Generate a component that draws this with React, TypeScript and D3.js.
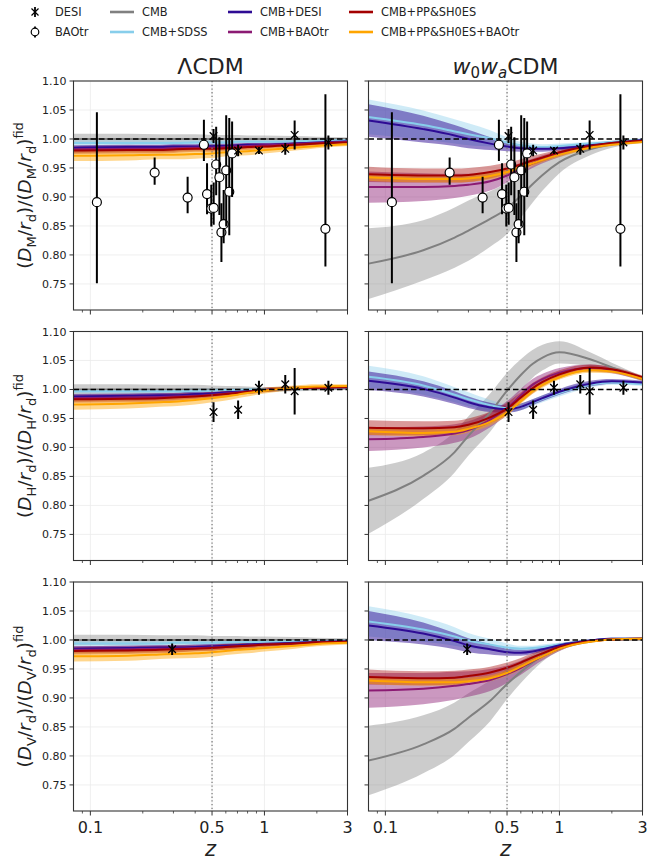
import React from 'react';
import * as d3 from 'd3';

// ---------------- data ----------------
const zGrid = [0.08, 0.165, 0.25, 0.3, 0.4, 0.5, 0.6, 0.7, 0.8, 1.0, 1.5, 2.0, 3.0];
const modelNames = ['CMB', 'CMB+SDSS', 'CMB+DESI', 'CMB+BAOtr', 'CMB+PP&SH0ES', 'CMB+PP&SH0ES+BAOtr'];

// LCDM column
const lcdmDMMid = [
  [1.000, 1.000, 1.000, 1.000, 1.000, 1.000, 1.000, 1.000, 1.000, 1.000, 1.000, 1.000, 1.000],
  [0.993, 0.993, 0.993, 0.993, 0.994, 0.994, 0.994, 0.995, 0.995, 0.995, 0.996, 0.997, 0.998],
  [0.985, 0.986, 0.986, 0.987, 0.987, 0.988, 0.988, 0.989, 0.990, 0.990, 0.992, 0.994, 0.996],
  [0.982, 0.983, 0.983, 0.984, 0.985, 0.985, 0.986, 0.987, 0.988, 0.989, 0.991, 0.993, 0.995],
  [0.980, 0.981, 0.981, 0.982, 0.983, 0.983, 0.984, 0.985, 0.986, 0.987, 0.990, 0.992, 0.994],
  [0.971, 0.972, 0.973, 0.973, 0.974, 0.975, 0.977, 0.978, 0.979, 0.981, 0.985, 0.988, 0.991],
];
const lcdmDMSig = [
  [0.009, 0.009, 0.008, 0.008, 0.008, 0.007, 0.007, 0.007, 0.006, 0.006, 0.005, 0.004, 0.003],
  [0.005, 0.005, 0.005, 0.005, 0.004, 0.004, 0.004, 0.004, 0.004, 0.003, 0.003, 0.003, 0.002],
  [0.004, 0.004, 0.004, 0.004, 0.004, 0.004, 0.004, 0.003, 0.003, 0.003, 0.003, 0.002, 0.002],
  [0.006, 0.006, 0.006, 0.006, 0.005, 0.005, 0.005, 0.005, 0.005, 0.004, 0.004, 0.003, 0.002],
  [0.006, 0.006, 0.006, 0.006, 0.005, 0.005, 0.005, 0.005, 0.005, 0.004, 0.004, 0.003, 0.002],
  [0.009, 0.009, 0.008, 0.008, 0.008, 0.008, 0.007, 0.007, 0.007, 0.006, 0.005, 0.004, 0.003],
];
const lcdmDHMid = [
  [1.000, 1.000, 1.000, 1.000, 1.000, 1.000, 1.000, 1.000, 1.000, 1.000, 1.001, 1.001, 1.002],
  [0.997, 0.997, 0.997, 0.997, 0.998, 0.998, 0.999, 0.999, 1.000, 1.000, 1.001, 1.002, 1.003],
  [0.988, 0.989, 0.990, 0.990, 0.992, 0.993, 0.995, 0.996, 0.997, 0.999, 1.002, 1.003, 1.004],
  [0.985, 0.986, 0.987, 0.988, 0.989, 0.991, 0.993, 0.995, 0.996, 0.999, 1.002, 1.003, 1.004],
  [0.983, 0.984, 0.985, 0.986, 0.988, 0.990, 0.992, 0.994, 0.996, 0.999, 1.002, 1.003, 1.004],
  [0.974, 0.976, 0.978, 0.979, 0.982, 0.985, 0.988, 0.991, 0.994, 0.998, 1.003, 1.005, 1.006],
];
const lcdmDHSig = [
  [0.009, 0.009, 0.008, 0.008, 0.008, 0.007, 0.006, 0.006, 0.005, 0.004, 0.004, 0.003, 0.003],
  [0.004, 0.004, 0.004, 0.004, 0.004, 0.004, 0.003, 0.003, 0.003, 0.003, 0.003, 0.002, 0.002],
  [0.004, 0.004, 0.004, 0.004, 0.004, 0.003, 0.003, 0.003, 0.003, 0.003, 0.002, 0.002, 0.002],
  [0.006, 0.006, 0.006, 0.006, 0.005, 0.005, 0.005, 0.004, 0.004, 0.004, 0.003, 0.003, 0.002],
  [0.006, 0.006, 0.006, 0.006, 0.005, 0.005, 0.005, 0.004, 0.004, 0.004, 0.003, 0.003, 0.002],
  [0.009, 0.009, 0.008, 0.008, 0.008, 0.007, 0.007, 0.006, 0.006, 0.005, 0.004, 0.004, 0.003],
];
const lcdmDVMid = [
  [1.000, 1.000, 1.000, 1.000, 1.000, 1.000, 1.000, 1.000, 1.000, 1.000, 1.000, 1.000, 1.000],
  [0.994, 0.994, 0.994, 0.995, 0.995, 0.995, 0.996, 0.996, 0.996, 0.997, 0.998, 0.998, 0.999],
  [0.985, 0.986, 0.987, 0.987, 0.988, 0.989, 0.990, 0.991, 0.992, 0.993, 0.995, 0.997, 0.998],
  [0.983, 0.984, 0.985, 0.985, 0.986, 0.987, 0.988, 0.989, 0.990, 0.992, 0.994, 0.996, 0.997],
  [0.981, 0.982, 0.983, 0.984, 0.985, 0.986, 0.988, 0.989, 0.990, 0.992, 0.994, 0.996, 0.997],
  [0.972, 0.973, 0.975, 0.976, 0.977, 0.979, 0.981, 0.983, 0.984, 0.986, 0.990, 0.993, 0.995],
];
const lcdmDVSig = lcdmDMSig;

// w0waCDM column
const w0waDMMid = [
  [0.785, 0.808, 0.830, 0.842, 0.862, 0.880, 0.902, 0.922, 0.938, 0.960, 0.982, 0.991, 0.996],
  [1.038, 1.024, 1.013, 1.008, 1.001, 0.994, 0.989, 0.987, 0.986, 0.988, 0.992, 0.995, 0.999],
  [1.032, 1.017, 1.006, 1.000, 0.992, 0.987, 0.984, 0.983, 0.983, 0.984, 0.989, 0.993, 0.998],
  [0.917, 0.917, 0.919, 0.921, 0.927, 0.937, 0.949, 0.958, 0.965, 0.974, 0.986, 0.991, 0.996],
  [0.939, 0.937, 0.937, 0.938, 0.943, 0.949, 0.956, 0.963, 0.968, 0.977, 0.988, 0.993, 0.997],
  [0.934, 0.931, 0.931, 0.932, 0.936, 0.943, 0.951, 0.958, 0.964, 0.973, 0.985, 0.990, 0.995],
];
const w0waDMSig = [
  [0.061, 0.052, 0.052, 0.052, 0.048, 0.044, 0.038, 0.032, 0.027, 0.019, 0.010, 0.006, 0.003],
  [0.030, 0.025, 0.021, 0.019, 0.014, 0.009, 0.006, 0.005, 0.005, 0.004, 0.003, 0.002, 0.002],
  [0.028, 0.023, 0.018, 0.016, 0.011, 0.008, 0.006, 0.005, 0.005, 0.004, 0.003, 0.002, 0.002],
  [0.027, 0.024, 0.021, 0.019, 0.016, 0.012, 0.010, 0.008, 0.007, 0.005, 0.003, 0.002, 0.002],
  [0.013, 0.012, 0.012, 0.012, 0.011, 0.010, 0.009, 0.008, 0.007, 0.005, 0.003, 0.002, 0.002],
  [0.006, 0.006, 0.006, 0.006, 0.006, 0.005, 0.005, 0.005, 0.004, 0.004, 0.003, 0.002, 0.002],
];
const w0waDHMid = [
  [0.808, 0.851, 0.892, 0.920, 0.960, 0.998, 1.025, 1.044, 1.055, 1.064, 1.052, 1.038, 1.018],
  [1.022, 1.007, 0.991, 0.983, 0.973, 0.968, 0.970, 0.977, 0.984, 0.994, 1.008, 1.012, 1.009],
  [1.015, 1.001, 0.986, 0.978, 0.969, 0.966, 0.970, 0.978, 0.985, 0.996, 1.010, 1.014, 1.012],
  [0.914, 0.918, 0.924, 0.930, 0.948, 0.968, 0.990, 1.008, 1.018, 1.029, 1.037, 1.033, 1.018],
  [0.934, 0.933, 0.935, 0.939, 0.952, 0.967, 0.986, 1.002, 1.013, 1.026, 1.038, 1.035, 1.021],
  [0.928, 0.925, 0.927, 0.932, 0.944, 0.960, 0.980, 0.997, 1.008, 1.021, 1.033, 1.031, 1.018],
];
const w0waDHSig = [
  [0.057, 0.040, 0.035, 0.034, 0.033, 0.031, 0.027, 0.024, 0.022, 0.019, 0.012, 0.008, 0.004],
  [0.019, 0.016, 0.013, 0.012, 0.009, 0.007, 0.006, 0.006, 0.006, 0.006, 0.005, 0.004, 0.003],
  [0.016, 0.013, 0.011, 0.010, 0.008, 0.006, 0.006, 0.005, 0.005, 0.005, 0.005, 0.004, 0.003],
  [0.020, 0.018, 0.016, 0.015, 0.013, 0.012, 0.011, 0.010, 0.009, 0.008, 0.006, 0.005, 0.003],
  [0.013, 0.012, 0.011, 0.011, 0.010, 0.010, 0.009, 0.009, 0.008, 0.007, 0.005, 0.004, 0.003],
  [0.006, 0.006, 0.006, 0.006, 0.006, 0.005, 0.005, 0.005, 0.005, 0.004, 0.004, 0.003, 0.003],
];
const w0waDVMid = [
  [0.792, 0.820, 0.847, 0.866, 0.895, 0.924, 0.945, 0.961, 0.973, 0.987, 0.998, 1.001, 1.001],
  [1.032, 1.018, 1.006, 0.999, 0.992, 0.987, 0.985, 0.986, 0.988, 0.992, 0.999, 1.002, 1.002],
  [1.025, 1.011, 0.998, 0.991, 0.984, 0.979, 0.978, 0.980, 0.984, 0.991, 0.999, 1.002, 1.002],
  [0.913, 0.916, 0.921, 0.924, 0.931, 0.941, 0.952, 0.963, 0.972, 0.985, 0.998, 1.001, 1.002],
  [0.936, 0.934, 0.935, 0.938, 0.944, 0.952, 0.961, 0.970, 0.977, 0.988, 0.998, 1.001, 1.002],
  [0.930, 0.927, 0.927, 0.929, 0.934, 0.943, 0.954, 0.964, 0.972, 0.985, 0.997, 1.001, 1.002],
];
const w0waDVSig = [
  [0.060, 0.050, 0.045, 0.042, 0.035, 0.026, 0.019, 0.014, 0.010, 0.006, 0.003, 0.002, 0.002],
  [0.026, 0.021, 0.016, 0.013, 0.010, 0.007, 0.005, 0.004, 0.004, 0.003, 0.002, 0.002, 0.002],
  [0.025, 0.019, 0.014, 0.012, 0.009, 0.006, 0.005, 0.004, 0.004, 0.003, 0.002, 0.002, 0.002],
  [0.030, 0.027, 0.024, 0.022, 0.019, 0.015, 0.012, 0.009, 0.007, 0.004, 0.002, 0.002, 0.002],
  [0.013, 0.012, 0.012, 0.011, 0.010, 0.009, 0.008, 0.007, 0.006, 0.004, 0.002, 0.002, 0.002],
  [0.006, 0.006, 0.006, 0.006, 0.005, 0.005, 0.005, 0.004, 0.004, 0.003, 0.002, 0.002, 0.002],
];

// DESI measurements
const desiDMz = [0.51, 0.706, 0.93, 1.317, 1.491, 2.33];
const desiDMv = [1.005, 0.980, 0.980, 0.983, 1.007, 0.994];
const desiDMe = [0.012, 0.010, 0.006, 0.010, 0.025, 0.012];
const desiDHz = [0.51, 0.706, 0.93, 1.317, 1.491, 2.33];
const desiDHv = [0.961, 0.965, 1.003, 1.009, 0.997, 1.003];
const desiDHe = [0.017, 0.016, 0.012, 0.016, 0.040, 0.012];
const desiDVz = [0.295];
const desiDVv = [0.984];
const desiDVe = [0.010];

// BAOtr (transverse) measurements
const baoZ = [0.109, 0.234, 0.362, 0.449, 0.468, 0.495, 0.511, 0.528, 0.551, 0.566, 0.583, 0.603, 0.628, 0.652, 2.24];
const baoV = [0.891, 0.942, 0.899, 0.990, 0.905, 0.880, 0.881, 0.956, 0.934, 0.839, 0.853, 0.946, 0.909, 0.975, 0.845];
const baoLo = [0.751, 0.921, 0.872, 0.962, 0.870, 0.849, 0.852, 0.903, 0.869, 0.788, 0.820, 0.849, 0.834, 0.900, 0.780];
const baoHi = [1.046, 0.968, 0.935, 1.033, 0.958, 0.921, 0.925, 1.021, 1.003, 0.889, 0.912, 1.041, 1.036, 1.030, 1.077];

const yTicks = [0.75, 0.80, 0.85, 0.90, 0.95, 1.00, 1.05, 1.10];
const xMajor = [0.1, 0.5, 1, 3];
const xMajorLabels = ['0.1', '0.5', '1', '3'];
const xMinor = [0.09, 0.2, 0.3, 0.4, 0.6, 0.7, 0.8, 0.9, 2];

// ---------------- styles ----------------
const lineColors = ['#808080', '#87ceeb', '#2e0b94', '#8b1a73', '#a30000', '#ffa500'];
const bandOpacity = [0.4, 0.4, 0.5, 0.45, 0.4, 0.45];
const FONT = 'DejaVu Sans, sans-serif';

const colX = [73.5, 368.5];
const rowY = [81, 331.5, 582];
const PW = 274;
const PH = 229;

type Pts = { z: number[]; v: number[]; lo: number[]; hi: number[] };

function Panel(props: {
  x0: number; y0: number; mids: number[][]; sigs: number[][]; leftCol: boolean; bottomRow: boolean;
  desi: Pts; bao?: Pts; id: string;
}) {
  const { x0, y0, mids, sigs, leftCol, bottomRow, desi, bao, id } = props;
  const xs = d3.scaleLog().domain([0.08, 3]).range([x0, x0 + PW]);
  const ys = d3.scaleLinear().domain([0.705, 1.10]).range([y0 + PH, y0]);
  const area = d3.area<number>()
    .x((_, i) => xs(zGrid[i]))
    .curve(d3.curveMonotoneX);
  const line = d3.line<number>()
    .x((_, i) => xs(zGrid[i]))
    .y((d) => ys(d))
    .curve(d3.curveMonotoneX);

  return (
    <g>
      <defs>
        <clipPath id={id}>
          <rect x={x0} y={y0} width={PW} height={PH} />
        </clipPath>
      </defs>
      {yTicks.map((t) => (
        <line key={'gy' + t} x1={x0} x2={x0 + PW} y1={ys(t)} y2={ys(t)} stroke="#ebebeb" strokeWidth={0.8} />
      ))}
      {xMajor.map((t) => (
        <line key={'gx' + t} x1={xs(t)} x2={xs(t)} y1={y0} y2={y0 + PH} stroke="#ebebeb" strokeWidth={0.8} />
      ))}
      <g clipPath={`url(#${id})`}>
        {mids.map((m, k) => {
          const s = sigs[k];
          const a = area.y0((d, i) => ys(d - s[i])).y1((d, i) => ys(d + s[i]));
          return <path key={'b' + k} d={a(m) || ''} fill={lineColors[k]} fillOpacity={bandOpacity[k]} stroke="none" />;
        })}
        {mids.map((m, k) => (
          <path key={'l' + k} d={line(m) || ''} fill="none" stroke={lineColors[k]} strokeWidth={2} />
        ))}
        <line x1={x0} x2={x0 + PW} y1={ys(1)} y2={ys(1)} stroke="#000" strokeWidth={1.6} strokeDasharray="5.5,3" />
        <line x1={xs(0.5)} x2={xs(0.5)} y1={y0} y2={y0 + PH} stroke="#777" strokeWidth={1.2} strokeDasharray="1.3,2.4" />
        {bao && bao.z.map((z, i) => (
          <g key={'bao' + i}>
            <line x1={xs(z)} x2={xs(z)} y1={ys(bao.lo[i])} y2={ys(bao.hi[i])} stroke="#000" strokeWidth={2} />
            <circle cx={xs(z)} cy={ys(bao.v[i])} r={4.5} fill="#fff" stroke="#000" strokeWidth={1.2} />
          </g>
        ))}
        {desi.z.map((z, i) => {
          const cx = xs(z), cy = ys(desi.v[i]);
          return (
            <g key={'desi' + i}>
              <line x1={cx} x2={cx} y1={ys(desi.lo[i])} y2={ys(desi.hi[i])} stroke="#000" strokeWidth={2} />
              <path d={`M${cx - 3.8},${cy - 3.8}L${cx + 3.8},${cy + 3.8}M${cx - 3.8},${cy + 3.8}L${cx + 3.8},${cy - 3.8}`} stroke="#000" strokeWidth={1.3} />
            </g>
          );
        })}
      </g>
      <rect x={x0} y={y0} width={PW} height={PH} fill="none" stroke="#333" strokeWidth={1.1} />
      {yTicks.map((t) => (
        <g key={'yt' + t}>
          <line x1={x0 - 4} x2={x0} y1={ys(t)} y2={ys(t)} stroke="#333" strokeWidth={1} />
          {leftCol && (
            <text x={x0 - 7} y={ys(t) + 4} textAnchor="end" fontSize={11} fontFamily={FONT} fill="#222">
              {d3.format('.2f')(t)}
            </text>
          )}
        </g>
      ))}
      {xMajor.map((t, i) => (
        <g key={'xt' + t}>
          <line x1={xs(t)} x2={xs(t)} y1={y0 + PH} y2={y0 + PH + 4.5} stroke="#333" strokeWidth={1} />
          {bottomRow && (
            <text x={xs(t)} y={y0 + PH + 22} textAnchor="middle" fontSize={16} fontFamily={FONT} fill="#222">
              {xMajorLabels[i]}
            </text>
          )}
        </g>
      ))}
      {xMinor.map((t) => (
        <line key={'xm' + t} x1={xs(t)} x2={xs(t)} y1={y0 + PH} y2={y0 + PH + 2.5} stroke="#333" strokeWidth={0.8} />
      ))}
      {bottomRow && (
        <text x={x0 + PW / 2} y={y0 + PH + 45} textAnchor="middle" fontSize={21} fontStyle="italic" fontFamily={FONT} fill="#222">
          z
        </text>
      )}
    </g>
  );
}

function YLabel({ cx, cy, sub }: { cx: number; cy: number; sub: string }) {
  const fs = 18.5;
  const sfs = 13;
  const d = 4.5;
  return (
    <text transform={`translate(${cx},${cy}) rotate(-90)`} textAnchor="middle" fontSize={fs} fontFamily={FONT} fill="#222">
      <tspan>(</tspan>
      <tspan fontStyle="italic">D</tspan>
      <tspan fontSize={sfs} dy={d}>{sub}</tspan>
      <tspan dy={-d}>/</tspan>
      <tspan fontStyle="italic">r</tspan>
      <tspan fontSize={sfs} dy={d}>d</tspan>
      <tspan dy={-d}>)/(</tspan>
      <tspan fontStyle="italic">D</tspan>
      <tspan fontSize={sfs} dy={d}>{sub}</tspan>
      <tspan dy={-d}>/</tspan>
      <tspan fontStyle="italic">r</tspan>
      <tspan fontSize={sfs} dy={d}>d</tspan>
      <tspan dy={-d}>)</tspan>
      <tspan fontSize={sfs} dy={-8.5}>fid</tspan>
    </text>
  );
}

function mkPts(z: number[], v: number[], e: number[]): Pts {
  return { z, v, lo: v.map((x, i) => x - e[i]), hi: v.map((x, i) => x + e[i]) };
}

export default function App() {
  const desiDM = mkPts(desiDMz, desiDMv, desiDMe);
  const desiDH = mkPts(desiDHz, desiDHv, desiDHe);
  const desiDV = mkPts(desiDVz, desiDVv, desiDVe);
  const bao: Pts = { z: baoZ, v: baoV, lo: baoLo, hi: baoHi };
  const rows = [
    { l: [lcdmDMMid, lcdmDMSig], r: [w0waDMMid, w0waDMSig], desi: desiDM, bao, sub: 'M' },
    { l: [lcdmDHMid, lcdmDHSig], r: [w0waDHMid, w0waDHSig], desi: desiDH, bao: undefined, sub: 'H' },
    { l: [lcdmDVMid, lcdmDVSig], r: [w0waDVMid, w0waDVSig], desi: desiDV, bao: undefined, sub: 'V' },
  ];

  const legendLineItems = [
    { col: 0, row: 0, k: 0 },
    { col: 0, row: 1, k: 1 },
    { col: 1, row: 0, k: 2 },
    { col: 1, row: 1, k: 3 },
    { col: 2, row: 0, k: 4 },
    { col: 2, row: 1, k: 5 },
  ];
  const lineColX = [110, 228, 349];
  const rowLY = [12, 32];

  return (
    <svg width={647} height={861} style={{ display: 'block', position: 'absolute', left: 0, top: 0, background: '#fff' }}>
      <rect x={0} y={0} width={647} height={861} fill="#fff" />
      <g fontFamily={FONT} fontSize={11.4} fill="#222">
        <line x1={35} x2={35} y1={rowLY[0] - 5} y2={rowLY[0] + 5} stroke="#000" strokeWidth={1.8} />
        <path d={`M31.5,${rowLY[0] - 3.5}L38.5,${rowLY[0] + 3.5}M31.5,${rowLY[0] + 3.5}L38.5,${rowLY[0] - 3.5}`} stroke="#000" strokeWidth={1.2} />
        <text x={55} y={rowLY[0] + 4}>DESI</text>
        <line x1={35} x2={35} y1={rowLY[1] - 5.5} y2={rowLY[1] + 5.5} stroke="#000" strokeWidth={1.8} />
        <circle cx={35} cy={rowLY[1]} r={3.8} fill="#fff" stroke="#000" strokeWidth={1.2} />
        <text x={55} y={rowLY[1] + 4}>BAOtr</text>
        {legendLineItems.map((it) => (
          <g key={'lg' + it.k}>
            <line x1={lineColX[it.col]} x2={lineColX[it.col] + 24} y1={rowLY[it.row]} y2={rowLY[it.row]} stroke={lineColors[it.k]} strokeWidth={2.6} />
            <text x={lineColX[it.col] + 32} y={rowLY[it.row] + 4}>{modelNames[it.k]}</text>
          </g>
        ))}
      </g>
      <text x={colX[0] + PW / 2} y={74} textAnchor="middle" fontSize={22} fontFamily={FONT} fill="#222">ΛCDM</text>
      <text x={colX[1] + PW / 2} y={74} textAnchor="middle" fontSize={22} fontFamily={FONT} fill="#222">
        <tspan fontStyle="italic">w</tspan>
        <tspan fontSize={15} dy={4}>0</tspan>
        <tspan fontStyle="italic" dy={-4}>w</tspan>
        <tspan fontSize={15} fontStyle="italic" dy={4}>a</tspan>
        <tspan dy={-4}>CDM</tspan>
      </text>
      {rows.map((r, ri) => (
        <g key={'row' + ri}>
          <Panel id={'cl' + ri} x0={colX[0]} y0={rowY[ri]} mids={r.l[0]} sigs={r.l[1]} leftCol={true} bottomRow={ri === 2} desi={r.desi} bao={r.bao} />
          <Panel id={'cr' + ri} x0={colX[1]} y0={rowY[ri]} mids={r.r[0]} sigs={r.r[1]} leftCol={false} bottomRow={ri === 2} desi={r.desi} bao={r.bao} />
          <YLabel cx={31} cy={rowY[ri] + PH / 2} sub={r.sub} />
        </g>
      ))}
    </svg>
  );
}
